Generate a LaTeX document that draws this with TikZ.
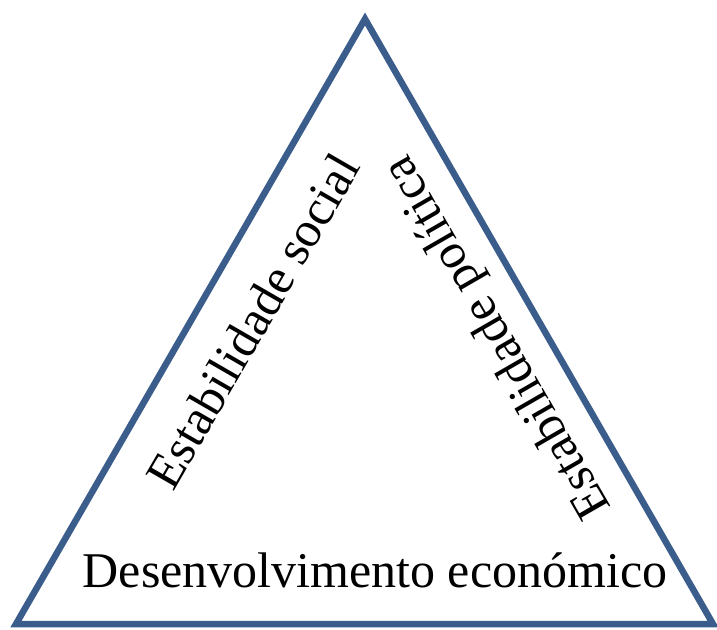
\documentclass[tikz,border=0pt]{standalone}
\usepackage{fontspec}
\setmainfont{Liberation Serif}
\definecolor{edgeblue}{HTML}{3A5D8C}
\begin{document}
\begin{tikzpicture}[x=1pt,y=-1pt,
  edge/.style={draw=edgeblue,line width=6.5pt,line join=miter},
  lbl/.style={font=\fontsize{50}{60}\selectfont,inner sep=0pt}]
\useasboundingbox (0,0) rectangle (717,629);
\coordinate (apex) at (365,19);
\coordinate (bl) at (16,624);
\coordinate (br) at (713,624);
\draw[edge] (apex) -- (bl) -- (br) -- cycle;
\node[lbl,anchor=base] (eco) at (375,587) {Desenvolvimento económico};
\node[lbl,anchor=base west,rotate=60] (soc) at (173,493) {Estabilidade social};
\node[lbl,anchor=base west,rotate=120] (pol) at (612,508) {Estabilidade política};
\end{tikzpicture}
\end{document}
